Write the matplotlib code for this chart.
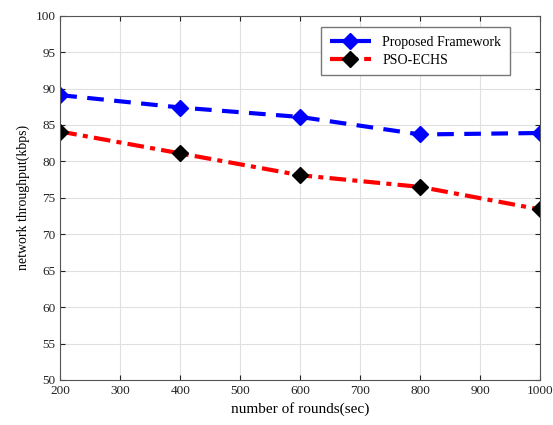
import matplotlib
matplotlib.use("Agg")
import matplotlib.pyplot as plt

rounds = [200, 400, 600, 800, 1000]
proposed = [89.1, 87.4, 86.1, 83.7, 83.9]
pso_echs = [84.1, 81.1, 78.1, 76.5, 73.4]

plt.rcParams['font.family'] = ['Liberation Serif', 'DejaVu Serif']

fig = plt.figure(figsize=(5.53, 4.25), dpi=100)
ax = fig.add_axes([0.109, 0.106, 0.868, 0.857])

ax.plot(rounds, proposed, color='blue', linestyle=(0, (4, 2.5)), linewidth=3,
        marker='D', markersize=8.5, markerfacecolor='blue', markeredgecolor='blue',
        label='Proposed Framework')
ax.plot(rounds, pso_echs, color='red', linestyle=(0, (4, 1.5, 1.2, 1.5)), linewidth=3,
        marker='D', markersize=8.5, markerfacecolor='black', markeredgecolor='black',
        label='PSO-ECHS')

ax.set_xlim(200, 1000)
ax.set_ylim(50, 100)
ax.set_xticks(range(200, 1001, 100))
ax.set_yticks(range(50, 101, 5))
ax.grid(True, color='#e0e0e0', linewidth=0.8)
ax.tick_params(direction='in', top=True, right=True, labelsize=9.5, colors='#222222')
for s in ax.spines.values():
    s.set_color('#555555')

ax.set_xlabel('number of rounds(sec)', fontsize=11)
ax.set_ylabel('network throughput(kbps)', fontsize=10)

leg = ax.legend(loc='upper right', bbox_to_anchor=(0.945, 0.98), fontsize=10,
                fancybox=False, framealpha=1, edgecolor='#777777',
                borderaxespad=0.3, handlelength=3, borderpad=0.6, labelspacing=0.4)

fig.savefig('out.png', dpi=100)
